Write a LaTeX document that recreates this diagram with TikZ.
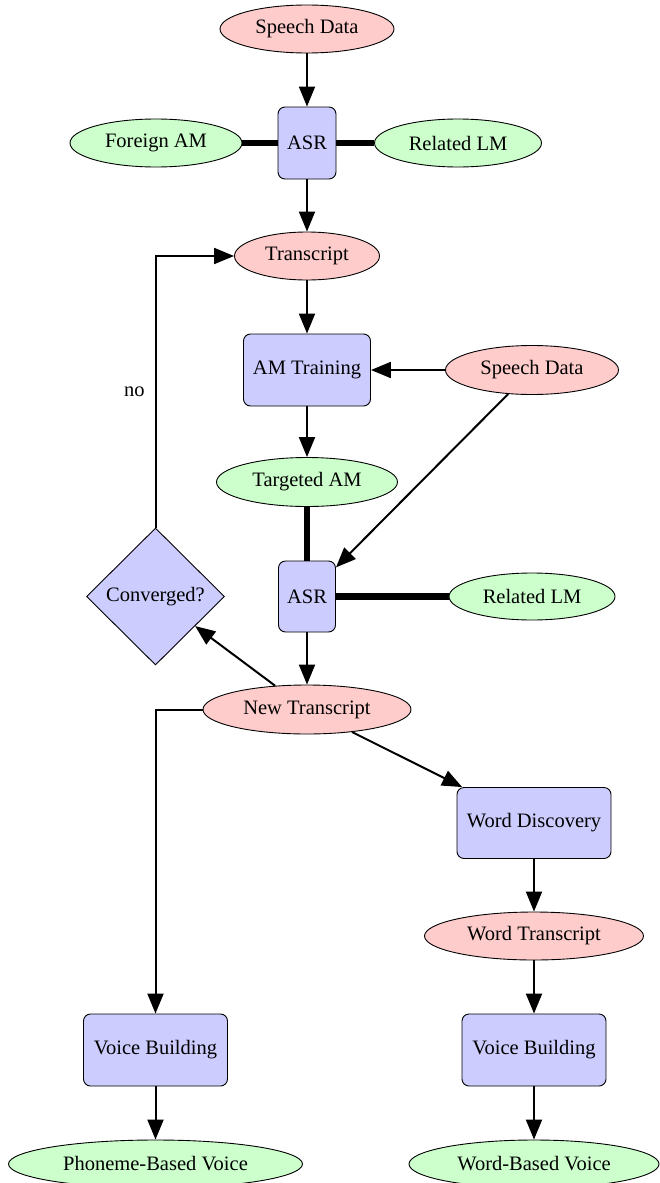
\documentclass[tikz,border=0pt]{standalone}
\usepackage{fontspec}
\setmainfont{Liberation Serif}
\usetikzlibrary{arrows.meta,shapes.geometric}
\definecolor{pinkfill}{RGB}{255,204,204}
\definecolor{greenfill}{RGB}{204,255,204}
\definecolor{bluefill}{RGB}{204,204,255}
\tikzset{
  base/.style={draw=black, line width=0.9pt, inner sep=0pt, font=\fontsize{20.5}{24}\selectfont},
  pinkell/.style={base, ellipse, fill=pinkfill},
  greenell/.style={base, ellipse, fill=greenfill},
  procbox/.style={base, rectangle, rounded corners=7pt, fill=bluefill},
  decide/.style={base, diamond, fill=bluefill},
  flow/.style={line width=2pt, -{Triangle[length=20pt,width=16pt]}},
  link/.style={line width=6.5pt},
}
\begin{document}
\begin{tikzpicture}[x=1pt,y=-1pt]
\useasboundingbox (0,0) rectangle (660,1183);
% nodes
\node[pinkell, minimum width=174pt, minimum height=48pt] (sd1) at (307,29) {Speech Data};
\node[procbox, minimum width=58pt, minimum height=72pt] (asr1) at (307,143) {ASR};
\node[greenell, minimum width=172pt, minimum height=48pt] (fam) at (156,143) {Foreign AM};
\node[greenell, minimum width=167pt, minimum height=48pt] (rlm1) at (458,143) {Related LM};
\node[pinkell, minimum width=145pt, minimum height=48pt] (tr) at (307,256) {Transcript};
\node[procbox, minimum width=127pt, minimum height=72pt] (amt) at (307,370) {AM Training};
\node[pinkell, minimum width=173pt, minimum height=49pt] (sd2) at (532,370) {Speech Data};
\node[greenell, minimum width=181pt, minimum height=49pt] (tam) at (307,482) {Targeted AM};
\node[procbox, minimum width=57pt, minimum height=71pt] (asr2) at (307,596.5) {ASR};
\node[greenell, minimum width=166pt, minimum height=47pt] (rlm2) at (532,596.5) {Related LM};
\node[decide, minimum width=138pt, minimum height=137pt] (conv) at (155.5,596.5) {Converged?};
\node[pinkell, minimum width=208pt, minimum height=49pt] (nt) at (307,709.5) {New Transcript};
\node[procbox, minimum width=154pt, minimum height=71pt] (wd) at (534,823) {Word Discovery};
\node[pinkell, minimum width=219pt, minimum height=48pt] (wt) at (534,936) {Word Transcript};
\node[procbox, minimum width=144pt, minimum height=72pt] (vbl) at (155.5,1050) {Voice Building};
\node[procbox, minimum width=144pt, minimum height=72pt] (vbr) at (534,1050) {Voice Building};
\node[greenell, minimum width=294pt, minimum height=48pt] (pbv) at (155.5,1164) {Phoneme-Based Voice};
\node[greenell, minimum width=250pt, minimum height=48pt] (wbv) at (534,1164) {Word-Based Voice};
% edges
\draw[flow] (sd1) -- (asr1);
\draw[link] (fam) -- (asr1);
\draw[link] (asr1) -- (rlm1);
\draw[flow] (asr1) -- (tr);
\draw[flow] (tr) -- (amt);
\draw[flow] (sd2) -- (amt);
\draw[flow] (amt) -- (tam);
\draw[link] (tam) -- (asr2);
\draw[flow] (sd2) -- (asr2);
\draw[link] (asr2) -- (rlm2);
\draw[flow] (asr2) -- (nt);
\draw[flow] (nt) -- (conv);
\draw[flow] (conv.north) |- node[pos=0.25, left=10pt, inner sep=0pt, font=\fontsize{20.5}{24}\selectfont] (no) {no} (tr.west);
\draw[flow] (nt.west) -| (vbl.north);
\draw[flow] (nt) -- (wd);
\draw[flow] (wd) -- (wt);
\draw[flow] (wt) -- (vbr);
\draw[flow] (vbl) -- (pbv);
\draw[flow] (vbr) -- (wbv);
\end{tikzpicture}
\end{document}
